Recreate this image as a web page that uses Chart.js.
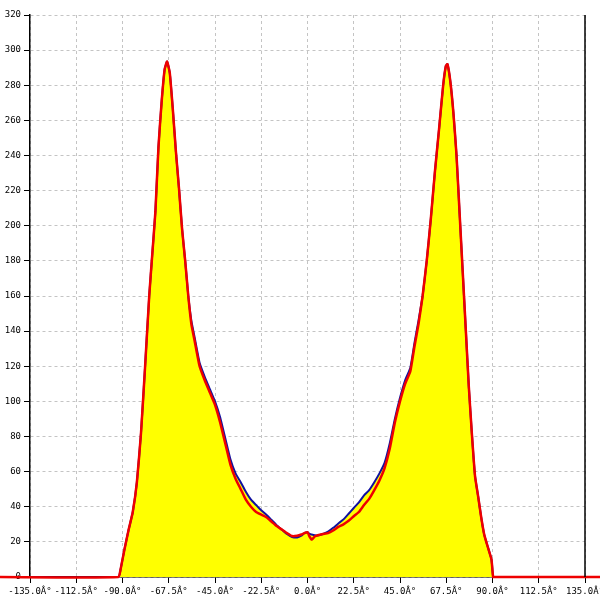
<!DOCTYPE html>
<html>
<head>
<meta charset="utf-8">
<script src="https://cdn.jsdelivr.net/npm/chart.js@4/dist/chart.umd.min.js"></script>
<style>
html,body{margin:0;padding:0;background:#fff;}
#wrap{width:600px;height:600px;}
</style>
</head>
<body>
<div id="wrap"><canvas id="c" width="600" height="600"></canvas></div>
<script>
const angles = [-150, -92, -91, -89, -87, -85, -83, -81, -79, -77, -75.5, -74, -72.5, -71, -69.5, -68.3, -67, -65.5, -64, -62.5, -61, -59.5, -58, -56.5, -55, -52.5, -50, -47.5, -45, -42.5, -40, -37.5, -35, -32.5, -30, -27.5, -25, -22.5, -20, -17.5, -15, -12.5, -10, -7.5, -5, -3, -1.5, 0, 1, 2, 3.5, 5, 7.5, 10, 12.5, 15, 17.5, 20, 22.5, 25, 27.5, 30, 32.5, 35, 37.5, 40, 42.5, 45, 47.5, 50, 52, 54, 56, 58, 60, 62, 64, 66, 67.3, 68.1, 69.5, 71, 72.5, 74, 75.5, 77, 78.5, 80, 81.5, 83, 84.5, 86, 88, 89.5, 90.3, 91, 150];

const redValues = [0, 0, 4, 16, 27, 37, 54, 82, 120, 160, 184, 208, 245, 270, 289, 293.5, 287, 266, 242, 221, 198, 180, 160, 144, 135, 120, 112, 105, 98, 88, 76, 64, 56, 50, 44, 40, 37, 35.5, 34, 31.5, 29, 27, 25, 23.3, 23.5, 24.2, 25, 25.5, 23, 21.3, 23, 23.8, 24.5, 25, 26.5, 28.5, 30, 32, 34.6, 37, 41, 44.5, 49.5, 55, 62, 73, 88, 100, 110, 117, 131, 144, 160, 180, 204, 231, 255, 280, 291, 292, 282, 264, 240, 207, 174, 141, 108, 81, 57.5, 46, 34, 24, 16, 10, 0, 0, 0];

const blueValues = [0, 0, 4, 16, 27, 37, 54, 82, 120, 160, 184, 208, 245, 270, 289, 293.5, 287, 266, 242, 221, 198, 180, 160, 146, 137, 122, 114, 107, 100, 91, 79, 67, 59, 54, 48.5, 44, 41, 38, 35.5, 32.5, 29.5, 27, 24.5, 22.8, 22.5, 23.5, 25, 25.5, 24.5, 24.2, 23.8, 23.6, 24.5, 25.8, 28, 30.5, 32.8, 36, 39.3, 42.5, 46.5, 49.5, 54, 59, 65, 76, 90, 102, 112, 119, 133, 146, 160, 180, 204, 231, 255, 280, 291, 292, 282, 264, 240, 207, 174, 141, 108, 81, 57.5, 46, 34, 24, 16, 10, 0, 0, 0];

const xMin = -135, xMax = 135, xStep = 22.5;
const yMin = 0, yMax = 320, yStep = 20;

const toPts = vals => angles.map((a, i) => ({x: a, y: vals[i]}));

const rightBorder = {
  id: 'rightBorder',
  afterDraw(chart) {
    const {ctx, chartArea} = chart;
    ctx.save();
    ctx.strokeStyle = '#000';
    ctx.lineWidth = 1.5;
    ctx.beginPath();
    ctx.moveTo(chartArea.right, chartArea.top);
    ctx.lineTo(chartArea.right, chartArea.bottom);
    ctx.stroke();
    ctx.restore();
  }
};

const tickFont = {family: '"DejaVu Sans Mono", monospace', size: 9};

new Chart(document.getElementById('c'), {
  type: 'line',
  data: {
    datasets: [
      {
        label: 'red',
        data: toPts(redValues),
        borderColor: '#ee0000',
        borderWidth: 2.5,
        pointRadius: 0,
        fill: false,
        tension: 0.15,
        clip: false,
        order: 0
      },
      {
        label: 'blue',
        data: toPts(blueValues),
        borderColor: '#1010a0',
        backgroundColor: '#ffff00',
        borderWidth: 2,
        pointRadius: 0,
        fill: 'origin',
        tension: 0.15,
        order: 1
      }
    ]
  },
  plugins: [rightBorder],
  options: {
    responsive: false,
    animation: false,
    devicePixelRatio: 1,
    layout: {padding: {top: 15, right: 15, left: 0, bottom: 0}},
    plugins: {legend: {display: false}, tooltip: {enabled: false}},
    scales: {
      x: {
        type: 'linear',
        min: xMin, max: xMax,
        ticks: {
          stepSize: xStep,
          color: '#000',
          font: tickFont,
          maxRotation: 0,
          autoSkip: false,
          padding: 3,
          callback: v => v.toFixed(1) + 'Â°'
        },
        grid: {color: '#c4c4c4', tickColor: '#000', tickLength: 6, lineWidth: 1},
        border: {display: true, color: '#000', width: 1.5, dash: [3, 3]},
        afterFit: s => { s.height = 23; s.paddingLeft = 0; s.paddingRight = 0; }
      },
      y: {
        type: 'linear',
        min: yMin, max: yMax,
        ticks: {stepSize: yStep, color: '#000', font: tickFont, padding: 3},
        grid: {color: '#c4c4c4', tickColor: '#000', tickLength: 6, lineWidth: 1},
        border: {display: true, color: '#000', width: 1.5, dash: [3, 3]},
        afterFit: s => { s.width = 30; }
      }
    }
  }
});
</script>
</body>
</html>
